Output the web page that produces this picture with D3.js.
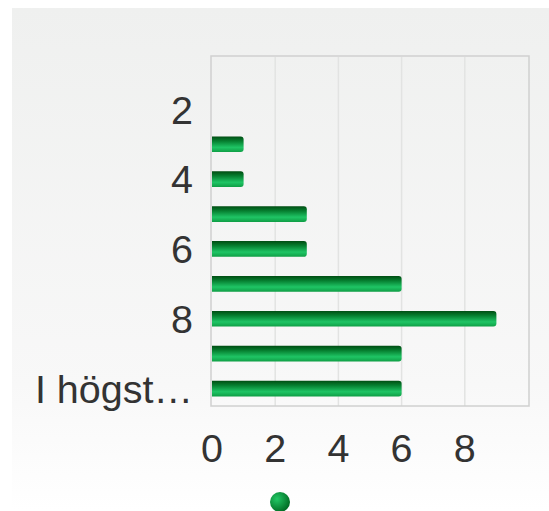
<!DOCTYPE html>
<html>
<head>
<meta charset="utf-8">
<script src="https://cdn.jsdelivr.net/npm/d3@7"></script>
<style>
  body { margin: 0; background: #fff; }
  svg { display: block; font-family: "Liberation Sans", Arial, sans-serif; }
</style>
</head>
<body>
<div id="chart"></div>
<script>
// chart data
var categories = ["1", "2", "3", "4", "5", "6", "7", "8", "9", "I högsta grad"];
var values = [0, 0, 1, 1, 3, 3, 6, 9, 6, 6];
var xTicks = [0, 2, 4, 6, 8];

var width = 549, height = 511;
var plot = {left: 212, right: 529, top: 57, bottom: 406};
var fontSize = 39.5;

var svg = d3.select("#chart").append("svg")
    .attr("width", width)
    .attr("height", height);

var defs = svg.append("defs");

//background gradient
var bg = defs.append("linearGradient")
    .attr("id", "bg").attr("x1", 0).attr("y1", 0).attr("x2", 0).attr("y2", 1);
bg.append("stop").attr("offset", "0%").attr("stop-color", "#eff0ef");
bg.append("stop").attr("offset", "75%").attr("stop-color", "#f8f8f8");
bg.append("stop").attr("offset", "100%").attr("stop-color", "#ffffff");

//bar gradient
var bar = defs.append("linearGradient")
    .attr("id", "bar").attr("x1", 0).attr("y1", 0).attr("x2", 0).attr("y2", 1);
bar.append("stop").attr("offset", "0%").attr("stop-color", "#004d12");
bar.append("stop").attr("offset", "30%").attr("stop-color", "#067f30");
bar.append("stop").attr("offset", "70%").attr("stop-color", "#1fc565");
bar.append("stop").attr("offset", "100%").attr("stop-color", "#0f9e45");

var dot = defs.append("radialGradient")
    .attr("id", "dot").attr("cx", "35%").attr("cy", "35%").attr("r", "70%");
dot.append("stop").attr("offset", "0%").attr("stop-color", "#22c865");
dot.append("stop").attr("offset", "100%").attr("stop-color", "#006a22");

svg.append("rect")
    .attr("x", 12).attr("y", 8)
    .attr("width", width - 12).attr("height", height - 8)
    .attr("fill", "url(#bg)");

var x = d3.scaleLinear().domain([0, 10]).range([plot.left, plot.right - 1]);
var y = d3.scaleBand().domain(categories).range([plot.top, plot.bottom]).paddingInner(0.55).paddingOuter(0.275);

//grid lines
svg.append("g")
    .selectAll("line")
    .data(xTicks.slice(1))
    .join("line")
    .attr("x1", d => x(d)).attr("x2", d => x(d))
    .attr("y1", plot.top).attr("y2", plot.bottom)
    .attr("stroke", "#e2e3e2")
    .attr("stroke-width", 1.5);

//frame
svg.append("rect")
    .attr("x", plot.left - 1).attr("y", plot.top - 1)
    .attr("width", plot.right - plot.left + 1).attr("height", plot.bottom - plot.top + 1)
    .attr("fill", "none")
    .attr("stroke", "#cfd0cf")
    .attr("stroke-width", 1.5);

//bars with rounded right end
function barPath(x0, x1, y0, h) {
    var r = Math.min(3, (x1 - x0) / 2);
    return "M" + x0 + "," + y0 +
        "H" + (x1 - r) +
        "Q" + x1 + "," + y0 + " " + x1 + "," + (y0 + r) +
        "V" + (y0 + h - r) +
        "Q" + x1 + "," + (y0 + h) + " " + (x1 - r) + "," + (y0 + h) +
        "H" + x0 + "Z";
}

svg.append("g")
    .selectAll("path")
    .data(categories.map((c, i) => ({cat: c, value: values[i]})).filter(d => d.value > 0))
    .join("path")
    .attr("d", d => barPath(x(0), x(d.value), y(d.cat), y.bandwidth()))
    .attr("fill", "url(#bar)");

//y labels (every other one)
function shorten(t) {
    return t.length > 7 ? t.slice(0, 7) + "\u2026" : t;
}
svg.append("g")
    .selectAll("text")
    .data(categories.filter((c, i) => i % 2 == 1))
    .join("text")
    .attr("x", 193)
    .attr("y", d => y(d) + y.bandwidth() / 2)
    .attr("dy", "0.36em")
    .attr("text-anchor", "end")
    .attr("font-size", fontSize)
    .attr("fill", "#333")
    .text(d => shorten(d));

//x labels
svg.append("g")
    .selectAll("text")
    .data(xTicks)
    .join("text")
    .attr("x", d => x(d))
    .attr("y", 462)
    .attr("text-anchor", "middle")
    .attr("font-size", fontSize)
    .attr("fill", "#333")
    .text(d => d);

//legend marker
svg.append("circle")
    .attr("cx", 280).attr("cy", 502).attr("r", 10)
    .attr("fill", "url(#dot)");
</script>
</body>
</html>
